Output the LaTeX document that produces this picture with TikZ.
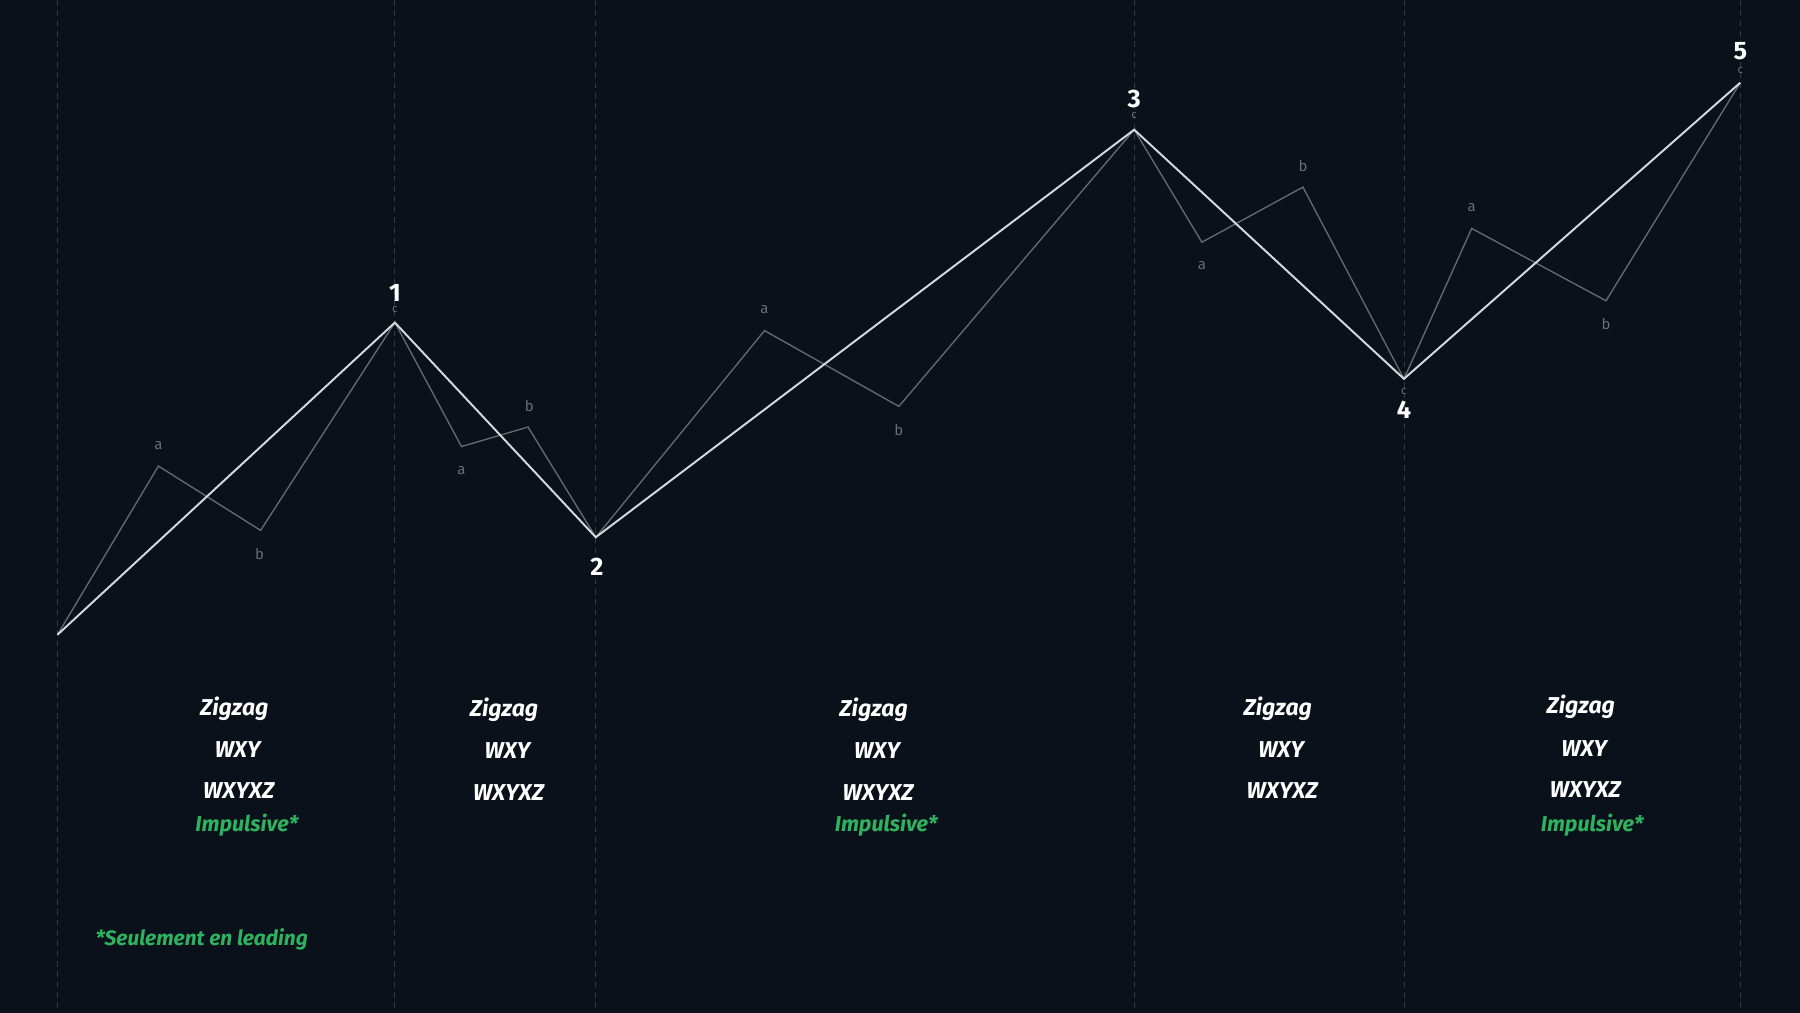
\documentclass[tikz,border=0pt]{standalone}
\usepackage{fontspec}
\setmainfont{Fira Sans}
\definecolor{bgc}{RGB}{11,17,26}
\definecolor{gridc}{RGB}{52,58,66}
\definecolor{subc}{RGB}{100,104,110}
\definecolor{mainc}{RGB}{214,216,219}
\definecolor{labc}{RGB}{105,110,116}
\definecolor{greenc}{RGB}{46,178,96}
\begin{document}
\begin{tikzpicture}[x=1pt,y=-1pt,
  gridline/.style={gridc,line width=0.8pt,dash pattern=on 5pt off 4pt},
  subwave/.style={subc,line width=1.2pt,line join=miter},
  mainwave/.style={mainc,line width=1.7pt,line join=miter},
  sublab/.style={text=labc,font=\fontsize{13}{15}\selectfont,inner sep=0pt},
  clab/.style={text=labc,font=\fontsize{10}{12}\selectfont,inner sep=0pt},
  numlab/.style={text=white,font=\fontsize{22}{24}\selectfont\bfseries,inner sep=0pt},
  wtxt/.style={text=white,font=\fontsize{20}{22}\selectfont\bfseries\itshape,inner sep=0pt},
  gtxt/.style={text=greenc,font=\fontsize{18.8}{22}\selectfont\bfseries\itshape,inner sep=0pt}]
\fill[bgc] (0,0) rectangle (1568,882);
\useasboundingbox (0,0) rectangle (1568,882);
% grid
\foreach \xx/\nm in {50/g0,344/g1,519/g2,988/g3,1223/g4,1516/g5}{
  \coordinate (\nm t) at (\xx,0);
  \coordinate (\nm b) at (\xx,882);
  \draw[gridline] (\nm t) -- (\nm b);
}
% main points
\coordinate (p0) at (50,553);
\coordinate (p1) at (344,281);
\coordinate (p2) at (519,468);
\coordinate (p3) at (988,113);
\coordinate (p4) at (1223,330);
\coordinate (p5) at (1516,72);
% sub points
\coordinate (a1) at (138,406); \coordinate (b1) at (227,462);
\coordinate (a2) at (402,389); \coordinate (b2) at (460,372);
\coordinate (a3) at (666,288); \coordinate (b3) at (783,354);
\coordinate (a4) at (1047,211); \coordinate (b4) at (1135,163);
\coordinate (a5) at (1282,199); \coordinate (b5) at (1399,262);
\draw[subwave] (p0) -- (a1) -- (b1) -- (p1) -- (a2) -- (b2) -- (p2) -- (a3) -- (b3) -- (p3) -- (a4) -- (b4) -- (p4) -- (a5) -- (b5) -- (p5);
\draw[mainwave] (p0) -- (p1) -- (p2) -- (p3) -- (p4) -- (p5);
% sub labels
\node[sublab] (la1) at (138,388) {a};
\node[sublab] (lb1) at (226,483) {b};
\node[sublab] (la2) at (402,410) {a};
\node[sublab] (lb2) at (461,354) {b};
\node[sublab] (la3) at (666,270) {a};
\node[sublab] (lb3) at (783,375) {b};
\node[sublab] (la4) at (1047,231) {a};
\node[sublab] (lb4) at (1135,145) {b};
\node[sublab] (la5) at (1282,181) {a};
\node[sublab] (lb5) at (1399,282) {b};
\node[clab] (lc1) at (344,270) {c};
\node[clab] (lc3) at (988,101) {c};
\node[clab] (lc4) at (1223,341) {c};
\node[clab] (lc5) at (1516,61) {c};
% numbers
\node[numlab] (n1) at (344,255) {1};
\node[numlab] (n2) at (520,494) {2};
\node[numlab] (n3) at (988,86) {3};
\node[numlab] (n4) at (1223,357) {4};
\node[numlab] (n5) at (1516,45) {5};
% column texts
\node[wtxt] (z1) at (204,617) {Zigzag};
\node[wtxt] (w1) at (207,653) {WXY};
\node[wtxt] (x1) at (208,689) {WXYXZ};
\node[gtxt] (i1) at (215,719) {Impulsive*};
\node[wtxt] (z2) at (439,618) {Zigzag};
\node[wtxt] (w2) at (442,654) {WXY};
\node[wtxt] (x2) at (443,690) {WXYXZ};
\node[wtxt] (z3) at (761,618) {Zigzag};
\node[wtxt] (w3) at (764,654) {WXY};
\node[wtxt] (x3) at (765,690) {WXYXZ};
\node[gtxt] (i3) at (772,719) {Impulsive*};
\node[wtxt] (z4) at (1113,617) {Zigzag};
\node[wtxt] (w4) at (1116,653) {WXY};
\node[wtxt] (x4) at (1117,689) {WXYXZ};
\node[wtxt] (z5) at (1377,616) {Zigzag};
\node[wtxt] (w5) at (1380,652) {WXY};
\node[wtxt] (x5) at (1381,688) {WXYXZ};
\node[gtxt] (i5) at (1387,719) {Impulsive*};
\node[gtxt,anchor=west,font=\fontsize{18.2}{22}\selectfont\bfseries\itshape] (fn) at (83,818) {*Seulement en leading};
\end{tikzpicture}
\end{document}
